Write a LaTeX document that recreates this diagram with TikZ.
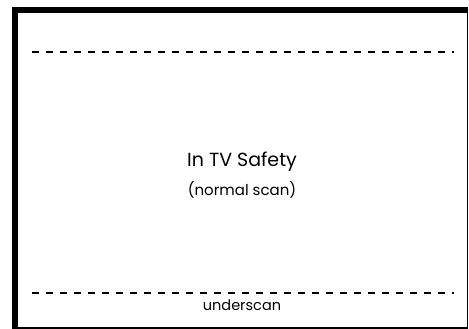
\documentclass[tikz,border=0pt]{standalone}
\usepackage{fontspec}
\setmainfont{Poppins}
\begin{document}
\begin{tikzpicture}[x=1pt,y=-1pt,
  guide/.style={line width=2pt,dash pattern=on 7pt off 7pt},
  lbl/.style={inner sep=0pt,anchor=base}]
\useasboundingbox (0,0) rectangle (469,329);
\fill[black] (12,7) rectangle (468,329);
\fill[white] (18,13) rectangle (466.5,326.7);
\coordinate (tl) at (32,52);
\coordinate (tr) at (454,52);
\coordinate (bl) at (32,292.5);
\coordinate (br) at (454,292.5);
\draw[guide] (tl) -- (tr);
\draw[guide] (bl) -- (br);
\node[lbl,font=\fontsize{19}{22}\selectfont] (title) at (242,166.5) {In TV Safety};
\node[lbl,font=\fontsize{15}{18}\selectfont] (sub) at (242,195.5) {(normal scan)};
\node[lbl,font=\fontsize{14.5}{17}\selectfont] (under) at (242,310) {underscan};
\end{tikzpicture}
\end{document}
